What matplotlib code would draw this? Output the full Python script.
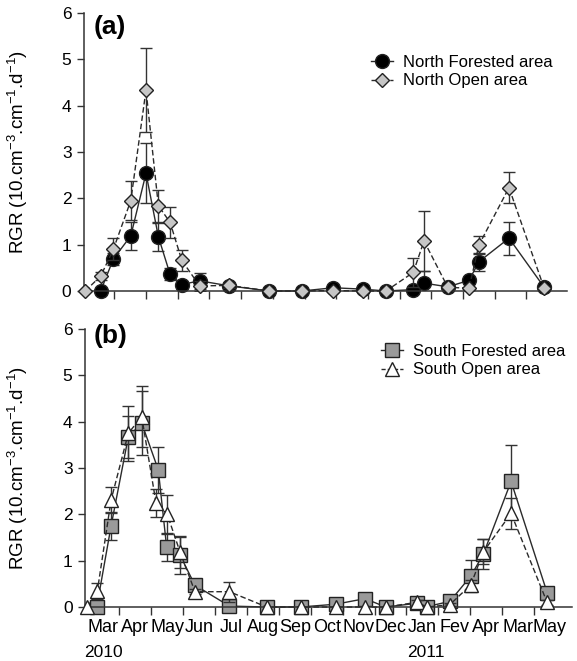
import matplotlib
matplotlib.use('Agg')
import matplotlib.pyplot as plt
from matplotlib.lines import Line2D

plt.rcParams['font.family'] = ['Liberation Sans', 'DejaVu Sans']
plt.rcParams['mathtext.fontset'] = 'custom'
plt.rcParams['mathtext.rm'] = 'Liberation Sans'
plt.rcParams['mathtext.it'] = 'Liberation Sans:italic'
plt.rcParams['mathtext.bf'] = 'Liberation Sans:bold'

# ---------------- data ----------------
months = ['Mar', 'Apr', 'May', 'Jun', 'Jul', 'Aug', 'Sep', 'Oct', 'Nov', 'Dec',
          'Jan', 'Fev', 'Apr', 'Mar', 'May']
years = ['2010', '2011']

# (a) North
nf_x = [0.57, 0.97, 1.52, 2.0, 2.39, 2.76, 3.13, 3.69, 4.63, 5.89, 6.91, 7.91,
        8.84, 9.57, 10.43, 10.77, 11.52, 12.19, 12.5, 13.45, 14.56]
nf_y = [0, 0.69, 1.19, 2.54, 1.17, 0.36, 0.14, 0.22, 0.11, 0, 0, 0.07,
        0.04, 0, 0.03, 0.17, 0.09, 0.23, 0.63, 1.14, 0.08]
nf_e = [0, 0.13, 0.31, 0.65, 0.3, 0.13, 0.07, 0.17, 0.05, 0, 0, 0.03,
        0.02, 0, 0, 0.26, 0.04, 0.07, 0.19, 0.36, 0.03]

no_x = [0.08, 0.57, 0.97, 1.52, 2.0, 2.39, 2.76, 3.13, 3.69, 4.63, 5.89, 6.91,
        7.91, 8.84, 9.57, 10.43, 10.77, 11.52, 12.19, 12.5, 13.45, 14.56]
no_y = [0, 0.32, 0.9, 1.95, 4.34, 1.84, 1.48, 0.66, 0.11, 0.12, 0, 0,
        0.01, 0, 0, 0.40, 1.08, 0.08, 0.06, 0.99, 2.23, 0.06]
no_e = [0, 0.08, 0.24, 0.42, 0.9, 0.35, 0.34, 0.22, 0.1, 0.05, 0, 0,
        0.02, 0, 0, 0.31, 0.65, 0.03, 0.03, 0.2, 0.34, 0.03]

# (b) South
sf_x = [0.29, 0.74, 1.28, 1.70, 2.22, 2.48, 2.9, 3.37, 4.45, 5.62, 6.68, 7.78,
        8.70, 9.35, 10.32, 10.65, 11.36, 12.02, 12.41, 13.28, 14.41]
sf_y = [0, 1.75, 3.67, 3.97, 2.96, 1.30, 1.12, 0.47, 0.02, 0, 0, 0.06,
        0.18, 0, 0.08, 0.01, 0.12, 0.67, 1.14, 2.71, 0.31]
sf_e = [0, 0.3, 0.46, 0.69, 0.49, 0.3, 0.4, 0.1, 0, 0, 0, 0.03,
        0.03, 0, 0.05, 0, 0.05, 0.35, 0.33, 0.79, 0.1]

so_x = [0.0, 0.31, 0.74, 1.28, 1.70, 2.15, 2.5, 2.9, 3.37, 4.45, 5.62, 6.68,
        7.78, 8.70, 9.35, 10.32, 10.65, 11.36, 12.02, 12.41, 13.28, 14.41]
so_y = [0, 0.35, 2.31, 3.75, 4.11, 2.24, 2.0, 1.19, 0.33, 0.33, 0, 0,
        0, 0, 0, 0.1, 0, 0.05, 0.48, 1.19, 2.02, 0.1]
so_e = [0, 0.17, 0.28, 0.59, 0.65, 0.3, 0.42, 0.35, 0.06, 0.22, 0, 0,
        0, 0, 0, 0.05, 0, 0.03, 0.1, 0.27, 0.33, 0.05]

ylabel = 'RGR (10.cm$^{-3}$.cm$^{-1}$.d$^{-1}$)'

# ---------------- figure ----------------
W, H = 577, 661
fig = plt.figure(figsize=(W / 100, H / 100), dpi=100)
fig.patch.set_facecolor('white')


def px_axes(l, r, t, b):
    return fig.add_axes([l / W, 1 - b / H, (r - l) / W, (b - t) / H])


ax1 = px_axes(84, 567, 13, 291)
ax2 = px_axes(85, 572, 329, 607)
ax1.set_xlim(0.044, 15.28)
ax2.set_xlim(-0.078, 15.19)

LINEC = '#2a2a2a'
EDGEC = '#222222'


def series(ax, x, y, e, marker, ms, fc, dashed, z):
    xe = [a for a, b in zip(x, e) if b > 0]
    ye = [a for a, b in zip(y, e) if b > 0]
    ee = [b for b in e if b > 0]
    ax.errorbar(xe, ye, yerr=ee, fmt='none', ecolor='#333333', elinewidth=1.0,
                capsize=4.2, capthick=1.0, zorder=z)
    kw = dict(color=LINEC, lw=1.0, marker=marker, ms=ms, mfc=fc, mec=EDGEC,
              mew=1.0, zorder=z + 0.5, clip_on=False)
    if dashed:
        kw['dashes'] = (4, 2)
    ax.plot(x, y, **kw)


series(ax1, nf_x, nf_y, nf_e, 'o', 10, 'black', False, 2)
series(ax1, no_x, no_y, no_e, 'D', 7.5, '#c6c6c6', True, 4)
series(ax2, sf_x, sf_y, sf_e, 's', 9.5, '#9a9a9a', False, 2)
series(ax2, so_x, so_y, so_e, '^', 10.5, 'white', True, 4)

for ax in (ax1, ax2):
    ax.set_ylim(0, 6)
    ax.set_yticks(range(0, 7))
    ax.spines['top'].set_visible(False)
    ax.spines['right'].set_visible(False)
    for s in ('left', 'bottom'):
        ax.spines[s].set_color('#333333')
        ax.spines[s].set_linewidth(1.1)
    ax.tick_params(axis='y', direction='out', length=5, width=1.0,
                   color='#333333', labelsize=12.5, pad=4)
    ax.set_xticks(range(1, 15))
    ax.tick_params(axis='x', which='major', direction='out', length=6,
                   width=1.0, color='#333333', labelbottom=False)
    ax.set_ylabel(ylabel, fontsize=13.5)
    ax.yaxis.set_label_coords(-0.112, 0.5)
    ax.set_facecolor('white')

ax2.set_xticks([i + 0.5 for i in range(len(months))], minor=True)
ax2.set_xticklabels(months, minor=True)
ax2.tick_params(axis='x', which='minor', length=0, pad=9.0, labelsize=13)

# year labels
trans = ax2.get_xaxis_transform()
ax2.text(0.5, -0.163, years[0], transform=trans, ha='center', va='center',
         fontsize=12.5)
ax2.text(10.6, -0.163, years[1], transform=trans, ha='center', va='center',
         fontsize=12.5)

# panel labels
fig.text(94 / W, 1 - 27 / H, '(a)', fontsize=19, fontweight='bold',
         ha='left', va='center')
fig.text(94 / W, 1 - 336 / H, '(b)', fontsize=19, fontweight='bold',
         ha='left', va='center')

# legends
h1 = [Line2D([], [], color=LINEC, lw=1.0, marker='o', ms=10, mfc='black',
             mec=EDGEC),
      Line2D([], [], color=LINEC, lw=1.0, dashes=(3, 1.5), marker='D', ms=7.5,
             mfc='#c6c6c6', mec=EDGEC)]
ax1.legend(h1, ['North Forested area', 'North Open area'], loc='upper left',
           bbox_to_anchor=(371 / W, 1 - 55 / H), bbox_transform=fig.transFigure,
           frameon=False, fontsize=12, handlelength=1.3, handletextpad=0.6,
           labelspacing=0.2, borderpad=0, borderaxespad=0)
h2 = [Line2D([], [], color=LINEC, lw=1.0, marker='s', ms=9.5, mfc='#9a9a9a',
             mec=EDGEC),
      Line2D([], [], color=LINEC, lw=1.0, dashes=(3, 1.5), marker='^', ms=10.5,
             mfc='white', mec=EDGEC)]
ax2.legend(h2, ['South Forested area', 'South Open area'], loc='upper left',
           bbox_to_anchor=(381 / W, 1 - 344 / H), bbox_transform=fig.transFigure,
           frameon=False, fontsize=12, handlelength=1.3, handletextpad=0.6,
           labelspacing=0.2, borderpad=0, borderaxespad=0)

fig.savefig('out.png', dpi=100, facecolor='white')
